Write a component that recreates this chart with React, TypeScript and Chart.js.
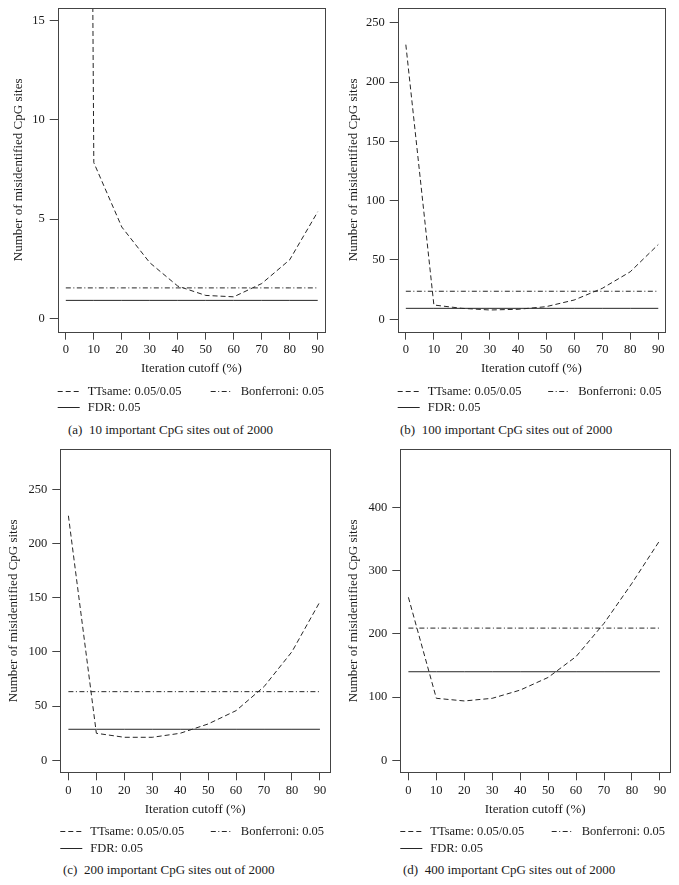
import React, { useEffect, useRef } from "react";
import { Chart, registerables } from "chart.js";

Chart.register(...registerables);

// ---------- data ----------
const iterationCutoffs = [0, 10, 20, 30, 40, 50, 60, 70, 80, 90];
const xTickValues = [0, 10, 20, 30, 40, 50, 60, 70, 80, 90];

// (a) 10 important CpG sites
const ttsameA = [230, 7.85, 4.6, 2.8, 1.62, 1.15, 1.08, 1.75, 2.95, 5.37];
const bonferroniA = 1.53;
const fdrA = 0.9;
const yTicksA = [0, 5, 10, 15];

// (b) 100 important CpG sites
const ttsameB = [231.5, 12, 9.2, 7.8, 8.4, 10.6, 16.2, 26, 40, 63];
const bonferroniB = 23.6;
const fdrB = 9.2;
const yTicksB = [0, 50, 100, 150, 200, 250];

// (c) 200 important CpG sites
const ttsameC = [225.6, 24.9, 21.2, 21.2, 24.9, 33.5, 45.8, 67.9, 100.2, 146.3];
const bonferroniC = 63.3;
const fdrC = 28.6;
const yTicksC = [0, 50, 100, 150, 200, 250];

// (d) 400 important CpG sites
const ttsameD = [257.7, 98, 93.8, 98, 111, 131, 164, 216.6, 280, 348];
const bonferroniD = 209;
const fdrD = 140;
const yTicksD = [0, 100, 200, 300, 400];

const seriesLabels = ["TTsame: 0.05/0.05", "Bonferroni: 0.05", "FDR: 0.05"];
const xAxisTitle = "Iteration cutoff (%)";
const yAxisTitle = "Number of misidentified CpG sites";
const captions = [
  "(a)\u00a0\u00a010 important CpG sites out of 2000",
  "(b)\u00a0\u00a0100 important CpG sites out of 2000",
  "(c)\u00a0\u00a0200 important CpG sites out of 2000",
  "(d)\u00a0\u00a0400 important CpG sites out of 2000",
];

// ---------- styling ----------
const FONT = "'Liberation Serif', 'DejaVu Serif', serif";
const LINE = "#262626";
const BOX = "#444444";
const TEXT = "#1a1a1a";

type PanelProps = {
  left: number;
  top: number;
  width: number;
  height: number;
  area: { l: number; t: number; r: number; b: number };
  xMin: number;
  xMax: number;
  yMin: number;
  yMax: number;
  yTicks: number[];
  ttsame: number[];
  bonferroni: number;
  fdr: number;
  yTitlePad: number;
  bonfDx: number;
};

const legendPlugin = {
  id: "rLegend",
  afterDraw(chart: any, _args: any, opts: any) {
    const { ctx, chartArea } = chart;
    const items = [
      { ds: 0, dx: 0, dy: opts.row1 },
      { ds: 1, dx: opts.bonfDx, dy: opts.row1 },
      { ds: 2, dx: 0, dy: opts.row2 },
    ];
    ctx.save();
    ctx.font = `12.5px ${FONT}`;
    ctx.textBaseline = "middle";
    ctx.fillStyle = TEXT;
    items.forEach((it) => {
      const ds = chart.data.datasets[it.ds];
      const x = chartArea.left + it.dx;
      const y = Math.round(chartArea.bottom + it.dy) + 0.5;
      ctx.strokeStyle = ds.borderColor;
      ctx.lineWidth = 1;
      ctx.setLineDash(ds.borderDash || []);
      ctx.beginPath();
      ctx.moveTo(x, y);
      ctx.lineTo(x + 22, y);
      ctx.stroke();
      ctx.setLineDash([]);
      ctx.fillText(ds.label, x + 30, y);
    });
    ctx.restore();
  },
};

const boxPlugin = {
  id: "rBox",
  afterDatasetsDraw(chart: any) {
    const { ctx, chartArea } = chart;
    ctx.save();
    ctx.strokeStyle = BOX;
    ctx.lineWidth = 1;
    ctx.strokeRect(
      Math.round(chartArea.left) + 0.5,
      Math.round(chartArea.top) + 0.5,
      Math.round(chartArea.right - chartArea.left),
      Math.round(chartArea.bottom - chartArea.top)
    );
    ctx.restore();
  },
};

function Panel(p: PanelProps) {
  const ref = useRef<HTMLCanvasElement | null>(null);
  useEffect(() => {
    if (!ref.current) return;
    const pts = (vals: number[]) => iterationCutoffs.map((x, i) => ({ x, y: vals[i] }));
    const flat = (v: number) => iterationCutoffs.map((x) => ({ x, y: v }));
    const common = {
      borderColor: LINE,
      borderWidth: 1,
      pointRadius: 0,
      tension: 0,
      fill: false,
    };
    const xAxisHeight = 45;
    const chart = new Chart(ref.current, {
      type: "line",
      data: {
        datasets: [
          { ...common, label: seriesLabels[0], data: pts(p.ttsame), borderDash: [5, 3] },
          { ...common, label: seriesLabels[1], data: flat(p.bonferroni), borderDash: [5, 2.5, 1, 2.5] },
          { ...common, label: seriesLabels[2], data: flat(p.fdr), borderDash: [] },
        ],
      },
      options: {
        animation: false,
        responsive: false,
        maintainAspectRatio: false,
        events: [],
        layout: {
          padding: {
            left: 0,
            top: p.area.t,
            right: p.width - p.area.r,
            bottom: p.height - p.area.b - xAxisHeight,
          },
        },
        plugins: {
          legend: { display: false },
          tooltip: { enabled: false },
          rLegend: { row1: 59, row2: 75.5, bonfDx: p.bonfDx },
        } as any,
        scales: {
          x: {
            type: "linear",
            min: p.xMin,
            max: p.xMax,
            afterBuildTicks: (s: any) => {
              s.ticks = xTickValues.map((v) => ({ value: v }));
            },
            afterFit: (s: any) => {
              s.height = xAxisHeight;
              s.paddingLeft = 0;
              s.paddingRight = 0;
              s.paddingTop = 0;
              s.paddingBottom = 0;
            },
            grid: {
              drawOnChartArea: false,
              drawTicks: true,
              tickLength: 8,
              color: BOX,
              lineWidth: 1,
            },
            border: { display: false },
            ticks: {
              autoSkip: false,
              maxRotation: 0,
              padding: 3,
              color: TEXT,
              font: { family: FONT, size: 12.5 },
            },
            title: {
              display: true,
              text: xAxisTitle,
              color: TEXT,
              font: { family: FONT, size: 13 },
              padding: { top: 0, bottom: 0 },
            },
          },
          y: {
            type: "linear",
            min: p.yMin,
            max: p.yMax,
            afterBuildTicks: (s: any) => {
              s.ticks = p.yTicks.map((v) => ({ value: v }));
            },
            afterFit: (s: any) => {
              s.width = p.area.l;
              s.paddingLeft = 0;
              s.paddingRight = 0;
              s.paddingTop = 0;
              s.paddingBottom = 0;
            },
            grid: {
              drawOnChartArea: false,
              drawTicks: true,
              tickLength: 8,
              color: BOX,
              lineWidth: 1,
            },
            border: { display: false },
            ticks: {
              padding: 5,
              color: TEXT,
              font: { family: FONT, size: 12.5 },
            },
            title: {
              display: true,
              text: yAxisTitle,
              color: TEXT,
              font: { family: FONT, size: 13 },
              padding: { top: p.yTitlePad, bottom: 0 },
            },
          },
        },
      } as any,
      plugins: [legendPlugin, boxPlugin],
    });
    return () => chart.destroy();
  }, []);
  return (
    <canvas
      ref={ref}
      width={p.width}
      height={p.height}
      style={{ position: "absolute", left: p.left, top: p.top, width: p.width, height: p.height }}
    />
  );
}

function Caption({ text, left, centerY }: { text: string; left: number; centerY: number }) {
  return (
    <div
      style={{
        position: "absolute",
        left,
        top: centerY - 8,
        font: `13px ${FONT}`,
        lineHeight: "16px",
        color: TEXT,
        whiteSpace: "nowrap",
      }}
    >
      {text}
    </div>
  );
}

export default function App() {
  return (
    <div style={{ position: "absolute", left: 0, top: 0, width: 679, height: 885, background: "#fff", overflow: "hidden" }}>
      <Panel
        left={0}
        top={0}
        width={340}
        height={420}
        area={{ l: 57.7, t: 8, r: 325, b: 331.7 }}
        xMin={-2.9}
        xMax={92.6}
        yMin={-0.68}
        yMax={15.65}
        yTicks={yTicksA}
        ttsame={ttsameA}
        bonferroni={bonferroniA}
        fdr={fdrA}
        yTitlePad={10.5}
        bonfDx={153}
      />
      <Panel
        left={340}
        top={0}
        width={339}
        height={420}
        area={{ l: 57.7, t: 8, r: 325, b: 331.7 }}
        xMin={-2.9}
        xMax={92.4}
        yMin={-10.5}
        yMax={262.4}
        yTicks={yTicksB}
        ttsame={ttsameB}
        bonferroni={bonferroniB}
        fdr={fdrB}
        yTitlePad={5.5}
        bonfDx={150.5}
      />
      <Panel
        left={0}
        top={440}
        width={340}
        height={420}
        area={{ l: 60.3, t: 9.3, r: 330, b: 332.3 }}
        xMin={-2.9}
        xMax={93.6}
        yMin={-11.1}
        yMax={286.9}
        yTicks={yTicksC}
        ttsame={ttsameC}
        bonferroni={bonferroniC}
        fdr={fdrC}
        yTitlePad={5.5}
        bonfDx={150.5}
      />
      <Panel
        left={340}
        top={440}
        width={339}
        height={420}
        area={{ l: 60.3, t: 9.3, r: 330, b: 332.3 }}
        xMin={-2.9}
        xMax={93.6}
        yMin={-19}
        yMax={491.7}
        yTicks={yTicksD}
        ttsame={ttsameD}
        bonferroni={bonferroniD}
        fdr={fdrD}
        yTitlePad={5.5}
        bonfDx={151.4}
      />
      <Caption text={captions[0]} left={68} centerY={429.5} />
      <Caption text={captions[1]} left={400} centerY={429.5} />
      <Caption text={captions[2]} left={63} centerY={870} />
      <Caption text={captions[3]} left={403} centerY={870} />
    </div>
  );
}
